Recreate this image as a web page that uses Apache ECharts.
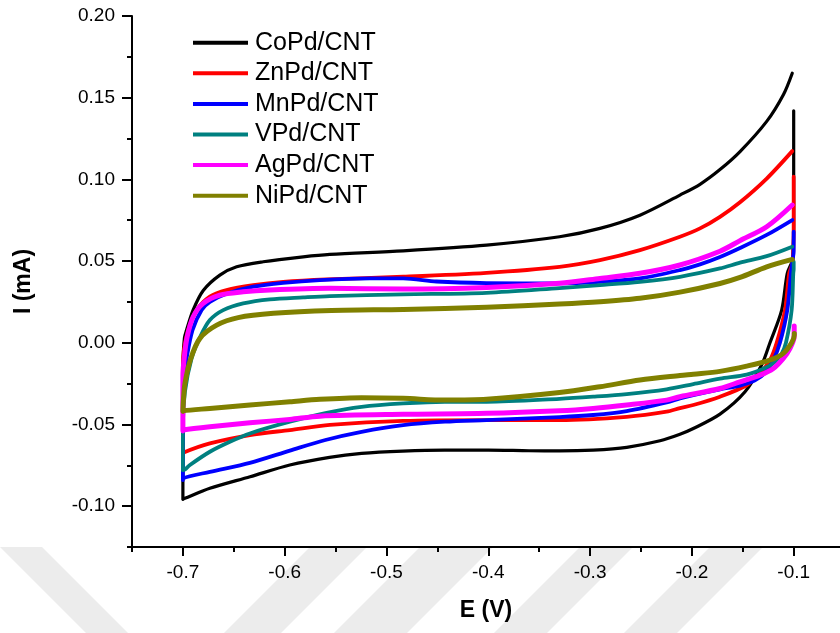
<!DOCTYPE html>
<html><head><meta charset="utf-8">
<script src="https://cdn.jsdelivr.net/npm/echarts@6.0.0/dist/echarts.min.js"></script>
<style>html,body{margin:0;padding:0;background:#fff}#c{width:840px;height:633px}</style>
</head><body><div id="c"></div><script>
// ---- data: [E (V), I (mA)] ----
const seriesNames = ['CoPd/CNT','ZnPd/CNT','MnPd/CNT','VPd/CNT','AgPd/CNT','NiPd/CNT'];
const coPd = [[-0.1,0.142],[-0.1,0.1],[-0.1,0.07],[-0.1005,0.058],[-0.1015,0.05],[-0.1063,0.0425],[-0.1118,0.020],[-0.1233,0.0],[-0.1314,-0.0135],[-0.1478,-0.030],[-0.1724,-0.0437],[-0.1986,-0.0525],[-0.2117,-0.0560],[-0.2313,-0.0600],[-0.264,-0.064],[-0.297,-0.0657],[-0.33,-0.0662],[-0.36,-0.0661],[-0.40,-0.0657],[-0.443,-0.0657],[-0.484,-0.0663],[-0.5245,-0.0677],[-0.556,-0.0701],[-0.595,-0.0748],[-0.634,-0.082],[-0.6735,-0.0891],[-0.698,-0.0952],[-0.7,-0.0958],[-0.7,-0.05],[-0.6997,-0.009],[-0.6985,0.003],[-0.6964,0.0078],[-0.690,0.020],[-0.680,0.032],[-0.6637,0.0414],[-0.6472,0.0465],[-0.6211,0.0496],[-0.5818,0.0526],[-0.5556,0.0541],[-0.4836,0.0563],[-0.4017,0.0598],[-0.33,0.0649],[-0.2903,0.070],[-0.251,0.0781],[-0.2117,0.0904],[-0.192,0.0970],[-0.1724,0.1060],[-0.1527,0.1170],[-0.1265,0.1355],[-0.110,0.152],[-0.1014,0.165]];
const znPd = [[-0.1,0.1016],[-0.1,0.07],[-0.1005,0.055],[-0.1015,0.048],[-0.1044,0.0425],[-0.1085,0.020],[-0.1167,0.0],[-0.1233,-0.0106],[-0.1331,-0.0187],[-0.1462,-0.0260],[-0.1724,-0.033],[-0.1986,-0.0381],[-0.2117,-0.040],[-0.2248,-0.0422],[-0.264,-0.0453],[-0.33,-0.0473],[-0.4017,-0.0473],[-0.4836,-0.0478],[-0.5556,-0.0503],[-0.5949,-0.0534],[-0.6342,-0.0565],[-0.6735,-0.0616],[-0.6997,-0.0673],[-0.7,-0.068],[-0.7,-0.03],[-0.6997,-0.009],[-0.6948,0.0078],[-0.6865,0.020],[-0.6735,0.0282],[-0.6571,0.0323],[-0.6309,0.0353],[-0.6015,0.0373],[-0.5588,0.0388],[-0.4836,0.0404],[-0.4017,0.0428],[-0.33,0.0465],[-0.2903,0.0506],[-0.251,0.0567],[-0.2117,0.0649],[-0.192,0.070],[-0.1724,0.0771],[-0.1527,0.0860],[-0.1265,0.1005],[-0.1014,0.1173]];
const mnPd = [[-0.1,0.068],[-0.1,0.056],[-0.1012,0.05],[-0.1027,0.0425],[-0.1063,0.020],[-0.1135,0.0],[-0.12,-0.0106],[-0.1282,-0.0185],[-0.138,-0.0230],[-0.1527,-0.0262],[-0.1724,-0.0285],[-0.1986,-0.032],[-0.2117,-0.034],[-0.2248,-0.0365],[-0.264,-0.0418],[-0.297,-0.0442],[-0.33,-0.0455],[-0.4017,-0.0473],[-0.4426,-0.0483],[-0.4836,-0.0504],[-0.5245,-0.0545],[-0.5600,-0.0595],[-0.5949,-0.0660],[-0.6342,-0.0735],[-0.6735,-0.079],[-0.6997,-0.083],[-0.7,-0.084],[-0.6997,-0.04],[-0.6985,-0.02],[-0.6964,-0.0096],[-0.6905,0.0078],[-0.6816,0.020],[-0.6735,0.025],[-0.6571,0.030],[-0.6309,0.0343],[-0.6015,0.0367],[-0.5654,0.0384],[-0.5163,0.0394],[-0.4836,0.0394],[-0.4508,0.0375],[-0.4017,0.0365],[-0.33,0.0363],[-0.2903,0.0373],[-0.251,0.0394],[-0.2117,0.0445],[-0.192,0.048],[-0.1724,0.0525],[-0.1527,0.058],[-0.1265,0.066],[-0.1014,0.0751]];
const vPd = [[-0.1,0.0496],[-0.1,0.045],[-0.1004,0.0425],[-0.102,0.020],[-0.1076,0.0],[-0.112,-0.007],[-0.118,-0.0115],[-0.1265,-0.015],[-0.1462,-0.0195],[-0.1724,-0.022],[-0.1986,-0.0253],[-0.2248,-0.0285],[-0.264,-0.0314],[-0.297,-0.033],[-0.33,-0.0343],[-0.4017,-0.0361],[-0.4426,-0.0361],[-0.4836,-0.0371],[-0.5245,-0.0392],[-0.56,-0.043],[-0.5949,-0.0483],[-0.6342,-0.0555],[-0.6538,-0.0606],[-0.6735,-0.0667],[-0.6931,-0.0748],[-0.698,-0.0775],[-0.7,-0.078],[-0.7,-0.05],[-0.698,-0.03],[-0.6915,-0.0096],[-0.683,0.0037],[-0.6735,0.0139],[-0.6604,0.020],[-0.6408,0.0241],[-0.6145,0.0266],[-0.5818,0.0278],[-0.5556,0.0286],[-0.4836,0.0296],[-0.4017,0.0306],[-0.33,0.0335],[-0.2903,0.0353],[-0.251,0.0373],[-0.2117,0.0404],[-0.1724,0.0455],[-0.1527,0.049],[-0.1265,0.053],[-0.1014,0.0588]];
const agPd = [[-0.0995,0.0102],[-0.0995,0.004],[-0.1036,-0.0034],[-0.1102,-0.0095],[-0.12,-0.0157],[-0.1331,-0.0198],[-0.1527,-0.0239],[-0.1724,-0.028],[-0.2117,-0.033],[-0.2248,-0.0351],[-0.264,-0.0381],[-0.297,-0.0402],[-0.33,-0.0416],[-0.4017,-0.0432],[-0.4836,-0.0438],[-0.5654,-0.0449],[-0.5949,-0.0469],[-0.6342,-0.049],[-0.6735,-0.0514],[-0.6997,-0.0534],[-0.7,-0.054],[-0.7,-0.02],[-0.6985,-0.008],[-0.6958,0.0037],[-0.6899,0.0159],[-0.6801,0.0241],[-0.6637,0.0292],[-0.6408,0.0312],[-0.6145,0.0323],[-0.5556,0.0333],[-0.4836,0.0329],[-0.4017,0.0339],[-0.33,0.0365],[-0.2903,0.0394],[-0.251,0.0425],[-0.2117,0.0476],[-0.1724,0.0560],[-0.1527,0.0625],[-0.1265,0.0710],[-0.1014,0.0843]];
const niPd = [[-0.0994,0.0057],[-0.0994,0.0047],[-0.102,0.0],[-0.1102,-0.0065],[-0.1233,-0.0106],[-0.1462,-0.0143],[-0.1724,-0.0175],[-0.1986,-0.0192],[-0.2117,-0.020],[-0.251,-0.0228],[-0.2903,-0.0269],[-0.33,-0.0305],[-0.4017,-0.0346],[-0.4426,-0.0351],[-0.4836,-0.034],[-0.5245,-0.0336],[-0.5654,-0.0346],[-0.5949,-0.0361],[-0.6342,-0.0381],[-0.6735,-0.0402],[-0.6997,-0.0416],[-0.7,-0.042],[-0.6995,-0.035],[-0.698,-0.025],[-0.6925,-0.0101],[-0.6833,0.0027],[-0.6668,0.0108],[-0.6457,0.0154],[-0.611,0.018],[-0.554,0.0197],[-0.4836,0.0204],[-0.4017,0.0217],[-0.33,0.0237],[-0.2903,0.0251],[-0.251,0.0272],[-0.2117,0.031],[-0.1724,0.0363],[-0.1527,0.040],[-0.1265,0.0465],[-0.1014,0.051]];
const xMajorTicks = [-0.7,-0.6,-0.5,-0.4,-0.3,-0.2,-0.1];
const xMinorTicks = [-0.75,-0.65,-0.55,-0.45,-0.35,-0.25,-0.15];
const yMajorTicks = [-0.10,-0.05,0.00,0.05,0.10,0.15,0.20];
const yMinorTicks = [-0.125,-0.075,-0.025,0.025,0.075,0.125,0.175];

const allData = [coPd, znPd, mnPd, vPd, agPd, niPd];
const colors = ['#000000','#ff0000','#0000ff','#008080','#ff00ff','#808000'];
const widths = [3.2, 3.8, 3.8, 3.8, 5, 5];
const FONT = '"Liberation Sans", Arial, sans-serif';

const chart = echarts.init(document.getElementById('c'), null, {renderer:'canvas'});
const xBase = {type:'value', min:-0.75, max:-0.0545, position:'bottom', splitLine:{show:false}};
const yBase = {type:'value', min:-0.125, max:0.20, position:'left', splitLine:{show:false}};
const wm = (pts) => ({type:'polygon', z:-10, silent:true, shape:{points:pts}, style:{fill:'#ececec'}});
chart.setOption({
  animation:false,
  backgroundColor:'#ffffff',
  textStyle:{fontFamily:FONT},
  graphic:[
    wm([[0,547],[42,547],[128,633],[86,633]]),
    wm([[310,547],[367,547],[281,633],[224,633]]),
    wm([[420,547],[493,547],[407,633],[334,633]]),
    wm([[580,547],[633,547],[547,633],[494,633]]),
    wm([[710,547],[763,547],[677,633],[624,633]])
  ],
  grid:{left:132, right:0, top:16, bottom:86, containLabel:false},
  legend:{
    orient:'vertical', left:193, top:27.7, padding:0, itemGap:0.6,
    itemWidth:55, itemHeight:4, icon:'rect',
    textStyle:{fontSize:25, color:'#000', fontFamily:FONT, lineHeight:30, padding:[0,0,0,2]},
    data:seriesNames
  },
  xAxis:[
    Object.assign({}, xBase, {
      axisLine:{show:true, onZero:false, lineStyle:{color:'#000', width:2}},
      axisTick:{show:true, inside:false, length:9, customValues:xMajorTicks, lineStyle:{color:'#000', width:2}},
      axisLabel:{show:true, customValues:xMajorTicks, margin:16, fontSize:19, color:'#000', fontFamily:FONT,
        formatter:(v)=>v.toFixed(1)},
      name:'E (V)', nameLocation:'middle', nameGap:52,
      nameTextStyle:{fontSize:23, fontWeight:'bold', color:'#000', fontFamily:FONT}
    }),
    Object.assign({}, xBase, {
      axisLine:{show:false, onZero:false},
      axisTick:{show:true, inside:false, length:5, customValues:xMinorTicks, lineStyle:{color:'#000', width:2}},
      axisLabel:{show:false}
    })
  ],
  yAxis:[
    Object.assign({}, yBase, {
      axisLine:{show:true, onZero:false, lineStyle:{color:'#000', width:2}},
      axisTick:{show:true, inside:false, length:10, customValues:yMajorTicks, lineStyle:{color:'#000', width:2}},
      axisLabel:{show:true, customValues:yMajorTicks, margin:17, fontSize:19, color:'#000', fontFamily:FONT,
        formatter:(v)=>v.toFixed(2)},
      name:'I (mA)', nameLocation:'middle', nameGap:97, nameRotate:90,
      nameTextStyle:{fontSize:23, fontWeight:'bold', color:'#000', fontFamily:FONT}
    }),
    Object.assign({}, yBase, {
      axisLine:{show:false, onZero:false},
      axisTick:{show:true, inside:false, length:5, customValues:yMinorTicks, lineStyle:{color:'#000', width:2}},
      axisLabel:{show:false}
    })
  ],
  series: allData.map((d,i)=>({
    name:seriesNames[i], type:'line', data:d, xAxisIndex:0, yAxisIndex:0,
    symbol:'none', showSymbol:false, smooth:0.3,
    lineStyle:{color:colors[i], width:widths[i], join:'round', cap:'round'},
    itemStyle:{color:colors[i]}
  }))
});
</script></body></html>
